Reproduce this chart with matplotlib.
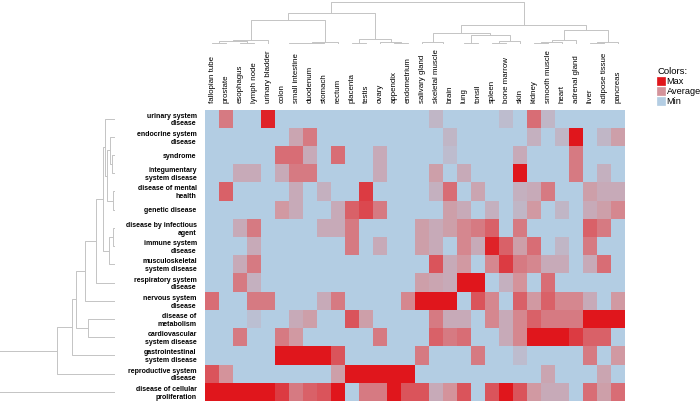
import numpy as np
import matplotlib
matplotlib.use("Agg")
import matplotlib.pyplot as plt
from matplotlib.colors import LinearSegmentedColormap
from matplotlib.patches import Patch

plt.rcParams['font.family'] = ['Liberation Sans', 'DejaVu Sans']

tissues = ["fallopian tube", "prostate", "esophagus", "lymph node", "urinary bladder",
           "colon", "small intestine", "duodenum", "stomach", "rectum",
           "placenta", "testis", "ovary", "appendix", "endometrium",
           "salivary gland", "skeletal muscle", "brain", "lung", "tonsil",
           "spleen", "bone marrow", "skin", "kidney", "smooth muscle",
           "heart", "adrenal gland", "liver", "adipose tissue", "pancreas"]

diseases = ["urinary system\ndisease", "endocrine system\ndisease", "syndrome",
            "integumentary\nsystem disease", "disease of mental\nhealth", "genetic disease",
            "disease by infectious\nagent", "immune system\ndisease",
            "musculoskeletal\nsystem disease", "respiratory system\ndisease",
            "nervous system\ndisease", "disease of\nmetabolism",
            "cardiovascular\nsystem disease", "gastrointestinal\nsystem disease",
            "reproductive system\ndisease", "disease of cellular\nproliferation"]

# relative expression (0 = min, 0.5 = average, 1 = max), rows x tissues
values = [
    # 0    1    2    3    4    5    6    7    8    9   10   11   12   13   14   15   16   17   18   19   20   21   22   23   24   25   26   27   28   29
    [0,  .6,   0,   0, .95,   0,   0,   0,   0,   0,   0,   0,   0,   0,   0,   0,  .2,   0,   0,   0,   0, .15,   0, .65,  .2,   0,   0,   0,   0,   0],
    [0,   0,   0,   0,   0,   0, .35,  .6,   0,   0,   0,   0,   0,   0,   0,   0,   0,  .2,   0,   0,   0,   0,   0, .25,   0,  .2, 1.0,   0,  .2,  .4],
    [0,   0,   0,   0,   0, .65, .65,  .3,   0, .65,   0,   0,  .3,   0,   0,   0,   0, .15,   0,   0,   0,   0,  .3,   0,   0,   0,  .6,   0,   0,   0],
    [0,   0,  .3,  .3,   0,  .3,  .6,  .6,   0,   0,   0,   0,  .3,   0,   0,   0,  .4,   0,  .3,   0,   0,   0, 1.0,   0,   0,   0,  .6,   0, .25,   0],
    [0,  .7,   0,   0,   0,   0,  .3,   0, .25,   0,   0, .85,   0,   0,   0,   0, .25, .65,   0, .35,   0,   0, .25,  .3,  .6,   0,   0,  .4,  .3,  .3],
    [0,   0,   0,   0,   0, .45,  .3,   0,   0,  .3,  .7,  .8,  .6,   0,   0,   0,   0,  .4,  .3,   0, .25,   0,  .2, .45,   0,  .2,   0,  .3,  .4, .55],
    [0,   0,  .3,  .6,   0,   0,   0,   0,  .3,  .3,  .6,   0,   0,   0,   0,  .4,  .3,  .4, .55,  .6,  .7,   0,  .6,   0,   0,   0,   0,  .7,  .6,   0],
    [0,   0,   0,  .3,   0,   0,   0,   0,   0,   0,  .6,   0,  .3,   0,   0,  .4,  .3,   0, .55,  .3, .95,  .7,  .4, .65,   0,  .2,   0,  .6,   0,   0],
    [0,   0,  .3,  .6,   0,   0,   0,   0,   0,   0,   0,   0,   0,   0,   0,   0, .75,  .3, .45,   0, .55, .85,  .6, .55,  .3,  .3,   0,  .3, .65,   0],
    [0,   0,  .6, .25,   0,   0,   0,   0,   0,   0,   0,   0,   0,   0,   0,  .4, .35,  .3, 1.0, 1.0,   0, .25,  .5,   0, .65,   0,   0,   0,   0,   0],
    [.65, 0,   0,  .6,  .6,   0,   0,   0,  .3,  .6,   0,   0,   0,   0, .55, 1.0, 1.0, 1.0,   0, .75, .55,   0,  .7, .45,  .7, .55, .55,  .3,   0, .45],
    [0,   0,   0, .12,   0,   0,  .3,  .4,   0,   0, .75,  .4,   0,   0,   0,   0,  .6,  .3,  .3,   0, .55,  .3, .55,  .7,  .6,  .6,  .6, 1.0, 1.0, 1.0],
    [0,   0,  .6,   0,   0,  .6, .45,   0,   0,   0,   0,   0,  .6,   0,   0,   0,  .7,  .6, .65,   0,   0,  .3, .55, 1.0, 1.0, 1.0, .85,  .7,  .7,   0],
    [0,   0,   0,   0,   0, 1.0, 1.0, 1.0, 1.0, .75,   0,   0,   0,   0,   0,  .6,   0,   0,   0,  .6,   0,   0, .15,   0,   0,   0,   0,  .6,   0, .45],
    [.75, .5,  0,   0,   0,   0,   0,   0,   0,  .4, 1.0, 1.0, 1.0, 1.0, 1.0,   0,   0,   0,   0,   0,   0,   0,   0,   0, .35,   0,   0,   0, .35,   0],
    [1.0, 1.0, 1.0, 1.0, 1.0, .85, .6, .7, .75, 1.0,   0,  .6,  .6, 1.0, .75, .75,  .3,  .5, .75,   0, .75, 1.0, .75, .45,  .3,  .3,   0, .65,  .4, .65],
]

# hierarchical clustering merges: (child a, child b, height); nodes >= n are earlier merges
col_merges = [
    (0, 1, .02), (2, 3, .03), (30, 31, .06), (32, 4, .10),
    (5, 6, .01), (34, 7, .02), (35, 8, .035), (36, 9, .05),
    (33, 37, .56),
    (10, 11, .02), (13, 14, .015), (12, 40, .05), (39, 41, .127),
    (38, 42, .746),
    (16, 17, .01), (15, 44, .05), (18, 19, .02), (20, 21, .03), (47, 22, .06),
    (46, 48, .22), (45, 49, .26),
    (23, 24, .02), (51, 25, .05), (52, 26, .10), (27, 28, .02), (54, 29, .04),
    (53, 55, .325), (50, 56, .444),
    (43, 57, 1.0),
]

row_merges = [
    (2, 3, .029), (1, 16, .043), (4, 5, .02), (17, 18, .067), (0, 19, .087),
    (6, 7, .02), (21, 8, .05), (20, 22, .10), (23, 9, .16), (24, 10, .26),
    (11, 12, .23), (25, 26, .34), (27, 13, .37), (28, 14, .50), (29, 15, 1.0),
]

legend_labels = ["Max", "Average", "Min"]
c_min, c_avg, c_max = "#b3cde3", "#d4939b", "#e0161c"


def dendro_segments(n, merges):
    pos = {i: i + 0.5 for i in range(n)}
    hgt = {i: 0.0 for i in range(n)}
    segs = []
    for j, (a, b, h) in enumerate(merges):
        node = n + j
        segs.append(([pos[a], pos[a], pos[b], pos[b]], [hgt[a], h, h, hgt[b]]))
        pos[node] = (pos[a] + pos[b]) / 2
        hgt[node] = h
    return segs


cmap = LinearSegmentedColormap.from_list("expr", [(0, c_min), (0.5, c_avg), (1, c_max)])
W, H = 700, 404
fig = plt.figure(figsize=(W / 100, H / 100), dpi=100)

nrows, ncols = len(diseases), len(tissues)
hx0, hx1, hy0, hy1 = 205, 625, 109.5, 401

ax = fig.add_axes([hx0 / W, 1 - hy1 / H, (hx1 - hx0) / W, (hy1 - hy0) / H])
ax.pcolormesh(np.array(values), cmap=cmap, vmin=0, vmax=1)
ax.set_xlim(0, ncols)
ax.set_ylim(nrows, 0)
ax.xaxis.tick_top()
ax.set_xticks(np.arange(ncols) + 0.5)
ax.set_xticklabels(tissues, rotation=90, fontsize=5.7)
ax.set_yticks(np.arange(nrows) + 0.5)
ax.set_yticklabels(diseases, fontsize=5, fontweight="bold", linespacing=1.15)
ax.tick_params(axis="x", length=0, pad=5)
ax.tick_params(axis="y", length=0, pad=6)
for s in ax.spines.values():
    s.set_visible(False)

line_kw = dict(color="#c4c4c4", lw=0.7)

axc = fig.add_axes([hx0 / W, 1 - 44 / H, (hx1 - hx0) / W, 43 / H])
for xs, ys in dendro_segments(ncols, col_merges):
    axc.plot(xs, ys, **line_kw)
axc.set_xlim(0, ncols)
axc.set_ylim(0, 1.02)
axc.axis("off")

axr = fig.add_axes([0, 1 - hy1 / H, 115 / W, (hy1 - hy0) / H])
for ps, hs in dendro_segments(nrows, row_merges):
    axr.plot(hs, ps, **line_kw)
axr.set_xlim(0.99, 0)
axr.set_ylim(nrows, 0)
axr.axis("off")

handles = [Patch(facecolor=c, edgecolor=c, lw=0.5) for c in (c_max, c_avg, c_min)]
leg = fig.legend(handles, legend_labels, title="Colors:", loc="upper left",
                 bbox_to_anchor=(657 / W, 1 - 67 / H), frameon=False,
                 fontsize=6.6, title_fontsize=6.8, handlelength=0.85, handleheight=1.0,
                 handletextpad=0.2, labelspacing=0.1, borderpad=0, borderaxespad=0,
                 alignment="left")

fig.savefig("out.png", dpi=100)
